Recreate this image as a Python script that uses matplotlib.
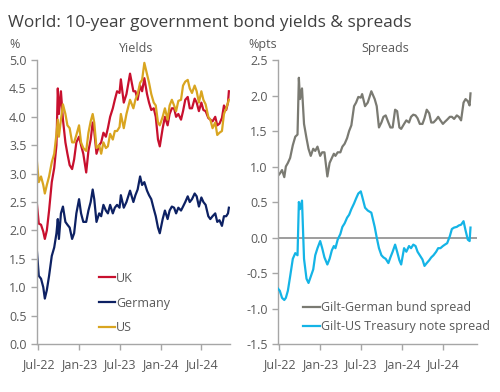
import pandas as pd
import matplotlib
matplotlib.use("Agg")
import matplotlib.pyplot as plt
import matplotlib.dates as mdates

plt.rcParams['font.family'] = ['Open Sans', 'DejaVu Sans']

dates = pd.to_datetime([
    "2022-06-27", "2022-07-05", "2022-07-15", "2022-07-25", "2022-08-01", "2022-08-10",
    "2022-08-20", "2022-09-01", "2022-09-12", "2022-09-22", "2022-09-28", "2022-10-03",
    "2022-10-12", "2022-10-21", "2022-11-01", "2022-11-10", "2022-11-20", "2022-12-01",
    "2022-12-10", "2022-12-20", "2023-01-01", "2023-01-10", "2023-01-20", "2023-02-02",
    "2023-02-12", "2023-02-22", "2023-03-03", "2023-03-10", "2023-03-20", "2023-04-01",
    "2023-04-10", "2023-04-20", "2023-05-01", "2023-05-10", "2023-05-20", "2023-06-01",
    "2023-06-10", "2023-06-20", "2023-07-01", "2023-07-07", "2023-07-20", "2023-08-01",
    "2023-08-17", "2023-09-01", "2023-09-10", "2023-09-20", "2023-10-01", "2023-10-10",
    "2023-10-20", "2023-11-01", "2023-11-10", "2023-11-20", "2023-12-01", "2023-12-10",
    "2023-12-20", "2023-12-28", "2024-01-10", "2024-01-20", "2024-02-01", "2024-02-10",
    "2024-02-20", "2024-03-01", "2024-03-10", "2024-03-20", "2024-04-01", "2024-04-10",
    "2024-04-20", "2024-05-01", "2024-05-10", "2024-05-20", "2024-06-01", "2024-06-10",
    "2024-06-20", "2024-07-01", "2024-07-10", "2024-07-20", "2024-08-01", "2024-08-10",
    "2024-08-20", "2024-09-01", "2024-09-10", "2024-09-20", "2024-10-01", "2024-10-10",
    "2024-10-20", "2024-10-28", "2024-11-01"])

uk = [2.45, 2.12, 2.10, 1.98, 1.85, 2.00, 2.35, 2.85, 3.10, 3.50, 4.50, 4.05,
      4.45, 3.95, 3.55, 3.35, 3.15, 3.08, 3.25, 3.55, 3.65, 3.50, 3.35, 3.02,
      3.40, 3.60, 3.90, 3.75, 3.35, 3.50, 3.55, 3.72, 3.65, 3.80, 4.00, 4.15,
      4.30, 4.45, 4.42, 4.66, 4.25, 4.40, 4.76, 4.45, 4.45, 4.30, 4.55, 4.45,
      4.68, 4.40, 4.25, 4.12, 4.15, 4.00, 3.60, 3.48, 3.80, 4.00, 3.85, 4.05,
      4.15, 4.15, 4.00, 4.05, 3.95, 4.10, 4.30, 4.35, 4.15, 4.15, 4.32, 4.25,
      4.10, 4.25, 4.12, 4.10, 3.98, 3.95, 3.92, 4.00, 3.85, 3.88, 3.98, 4.20,
      4.12, 4.25, 4.45]

germany = [1.62, 1.20, 1.15, 1.00, 0.80, 0.95, 1.20, 1.55, 1.70, 1.95, 2.20, 1.85,
           2.30, 2.42, 2.15, 2.10, 2.05, 1.85, 1.95, 2.30, 2.55, 2.30, 2.15, 2.15,
           2.35, 2.50, 2.72, 2.55, 2.15, 2.30, 2.25, 2.45, 2.35, 2.30, 2.45, 2.30,
           2.40, 2.45, 2.40, 2.62, 2.40, 2.50, 2.70, 2.50, 2.62, 2.72, 2.95, 2.80,
           2.85, 2.70, 2.62, 2.55, 2.38, 2.25, 2.05, 1.95, 2.20, 2.35, 2.20, 2.35,
           2.42, 2.40, 2.30, 2.40, 2.35, 2.42, 2.50, 2.60, 2.50, 2.55, 2.65, 2.60,
           2.42, 2.58, 2.50, 2.45, 2.25, 2.20, 2.25, 2.30, 2.15, 2.18, 2.08, 2.25,
           2.25, 2.30, 2.40]

us = [3.20, 2.85, 2.95, 2.80, 2.65, 2.80, 2.95, 3.20, 3.35, 3.70, 3.95, 3.65,
      3.95, 4.22, 4.05, 3.85, 3.80, 3.55, 3.55, 3.68, 3.85, 3.55, 3.45, 3.40,
      3.72, 3.92, 4.05, 3.90, 3.45, 3.50, 3.35, 3.55, 3.45, 3.48, 3.70, 3.60,
      3.75, 3.75, 3.82, 4.05, 3.80, 4.05, 4.30, 4.15, 4.30, 4.40, 4.60, 4.65,
      4.95, 4.75, 4.60, 4.40, 4.25, 4.20, 3.90, 3.85, 4.00, 4.15, 3.95, 4.20,
      4.30, 4.20, 4.10, 4.28, 4.30, 4.55, 4.62, 4.65, 4.50, 4.42, 4.55, 4.45,
      4.25, 4.45, 4.30, 4.22, 4.00, 3.95, 3.80, 3.90, 3.68, 3.72, 3.75, 4.05,
      4.15, 4.25, 4.30]

gilt_bund = [0.87, 0.90, 0.95, 0.85, 1.00, 1.05, 1.12, 1.30, 1.42, 1.45, 2.25, 1.95,
             2.10, 1.60, 1.40, 1.25, 1.15, 1.25, 1.22, 1.28, 1.15, 1.20, 1.20, 0.86,
             1.05, 1.12, 1.18, 1.15, 1.20, 1.20, 1.28, 1.32, 1.40, 1.50, 1.58, 1.85,
             1.90, 1.98, 1.97, 2.02, 1.85, 1.90, 2.06, 1.95, 1.85, 1.55, 1.62, 1.70,
             1.72, 1.62, 1.55, 1.55, 1.80, 1.78, 1.55, 1.53, 1.60, 1.65, 1.62, 1.70,
             1.73, 1.72, 1.68, 1.60, 1.60, 1.68, 1.80, 1.75, 1.62, 1.62, 1.66, 1.70,
             1.65, 1.60, 1.63, 1.66, 1.70, 1.70, 1.67, 1.72, 1.70, 1.65, 1.90, 1.95,
             1.92, 1.86, 2.03]

gilt_ust = [-0.72, -0.75, -0.85, -0.88, -0.85, -0.75, -0.55, -0.30, -0.22, -0.25, 0.50, 0.40,
            0.52, -0.30, -0.58, -0.64, -0.55, -0.45, -0.25, -0.15, -0.05, -0.15, -0.28, -0.38,
            -0.30, -0.18, -0.12, -0.15, -0.03, 0.05, 0.15, 0.20, 0.28, 0.32, 0.40, 0.48,
            0.55, 0.62, 0.65, 0.58, 0.42, 0.38, 0.35, 0.15, 0.00, -0.15, -0.25, -0.28,
            -0.30, -0.36, -0.28, -0.20, -0.10, -0.20, -0.32, -0.38, -0.15, -0.20, -0.12, -0.15,
            -0.10, -0.12, -0.20, -0.25, -0.31, -0.40, -0.36, -0.32, -0.28, -0.25, -0.20, -0.15,
            -0.15, -0.12, -0.10, -0.08, 0.02, 0.12, 0.14, 0.15, 0.17, 0.18, 0.23, 0.10,
            -0.03, -0.05, 0.14]

tick_dates = pd.to_datetime(["2022-07-01", "2023-01-01", "2023-07-01", "2024-01-01", "2024-07-01"])

RED = "#c8102e"
NAVY = "#0d2163"
GOLD = "#d9a520"
GREY = "#7a7a72"
BLUE = "#14b4e6"
TXT = "#595959"
AX = "#a6a6a6"

fig = plt.figure(figsize=(5, 3.92), dpi=100)
ax1 = fig.add_axes([0.074, 0.1224, 0.386, 0.7245])
ax2 = fig.add_axes([0.556, 0.1224, 0.398, 0.7245])

ax1.plot(dates, uk, color=RED, lw=1.6, label="UK")
ax1.plot(dates, germany, color=NAVY, lw=1.6, label="Germany")
ax1.plot(dates, us, color=GOLD, lw=1.6, label="US")
ax1.set_ylim(0, 5)
ax1.set_yticks([i * 0.5 for i in range(11)])
ax1.set_xlim(pd.Timestamp("2022-06-27"), pd.Timestamp("2024-11-06"))

ax2.axhline(0, color="#8c8c8c", lw=1.2, zorder=1)
ax2.plot(dates, gilt_bund, color=GREY, lw=1.6, label="Gilt-German bund spread", zorder=2)
ax2.plot(dates, gilt_ust, color=BLUE, lw=1.6, label="Gilt-US Treasury note spread", zorder=3)
ax2.set_ylim(-1.5, 2.5)
ax2.set_yticks([-1.5 + i * 0.5 for i in range(9)])
ax2.set_xlim(pd.Timestamp("2022-06-27"), pd.Timestamp("2024-11-30"))

for ax in (ax1, ax2):
    ax.spines["top"].set_visible(False)
    ax.spines["right"].set_visible(False)
    for s in ("left", "bottom"):
        ax.spines[s].set_color(AX)
        ax.spines[s].set_linewidth(1.0)
    ax.set_xticks(tick_dates)
    ax.xaxis.set_major_formatter(mdates.DateFormatter("%b-%y"))
    ax.yaxis.set_major_formatter(plt.FormatStrFormatter("%.1f"))
    ax.tick_params(axis="both", colors=AX, labelcolor=TXT, labelsize=9,
                   length=4, width=1.0, direction="out")
    ax.tick_params(axis="x", pad=6)
    ax.set_facecolor("none")

ax1.legend(loc="center left", bbox_to_anchor=(0.321, 0.144), frameon=False,
           fontsize=9, handlelength=1.28, handletextpad=0.1, labelspacing=0.94,
           borderpad=0, borderaxespad=0, labelcolor=TXT)
ax2.legend(loc="center left", bbox_to_anchor=(0.126, 0.095), frameon=False,
           fontsize=9, handlelength=1.36, handletextpad=0.1, labelspacing=0.5,
           borderpad=0, borderaxespad=0, labelcolor=TXT)

fig.text(0.016, 0.931, "World: 10-year government bond yields & spreads", fontsize=12.4,
         color="#404040", va="baseline")
fig.text(0.018, 0.878, "%", fontsize=9, color=TXT, va="baseline")
fig.text(0.272, 0.867, "Yields", fontsize=9, color=TXT, va="baseline", ha="center")
fig.text(0.496, 0.878, "%pts", fontsize=9, color=TXT, va="baseline")
fig.text(0.77, 0.867, "Spreads", fontsize=9, color=TXT, va="baseline", ha="center")

fig.savefig("out.png", dpi=100)
